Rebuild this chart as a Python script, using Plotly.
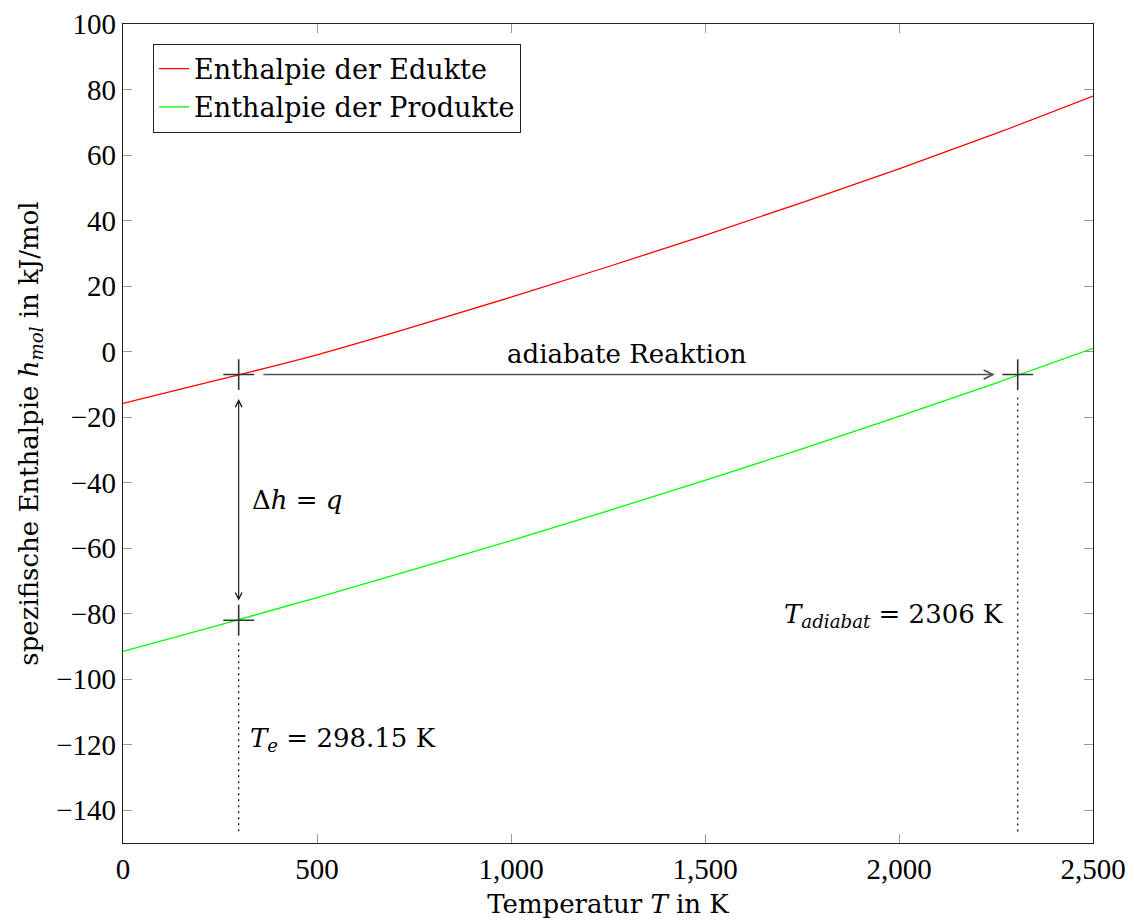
import plotly.graph_objects as go

# ---- data ----
temperature = [0, 250, 500, 750, 1000, 1250, 1500, 1750, 2000, 2250, 2500]
h_edukte = [-15.8, -8.5, -1.0, 7.6, 16.6, 25.9, 35.5, 45.5, 55.8, 66.6, 78.0]
h_produkte = [-91.5, -83.4, -75.1, -66.5, -57.7, -48.6, -39.3, -29.7, -19.8, -9.6, 1.0]

T_e = 298.15
T_ad = 2306
h_e_edukte = -7.0
h_e_produkte = -82.0

x_ticks = [0, 500, 1000, 1500, 2000, 2500]
y_ticks = [-140, -120, -100, -80, -60, -40, -20, 0, 20, 40, 60, 80, 100]

TEXT_FONT = "DejaVu Serif"
TICK_FONT = "Liberation Serif"
FS = 26
TFS = 29

fig = go.Figure()
fig.add_trace(go.Scatter(x=temperature, y=h_edukte, mode="lines",
                         line=dict(color="#ff0000", width=1.3, shape="spline"),
                         name="Enthalpie der Edukte"))
fig.add_trace(go.Scatter(x=temperature, y=h_produkte, mode="lines",
                         line=dict(color="#00ff00", width=1.3, shape="spline"),
                         name="Enthalpie der Produkte"))
fig.add_trace(go.Scatter(x=[T_e, T_e, T_ad], y=[h_e_edukte, h_e_produkte, h_e_edukte],
                         mode="markers", showlegend=False,
                         marker=dict(symbol="cross-thin", size=22,
                                     line=dict(color="#333333", width=1.6))))

# dotted vertical lines
fig.add_shape(type="line", x0=T_e, x1=T_e, y0=-89, y1=-147,
              line=dict(color="#000000", width=1.2, dash="2px,4px"))
fig.add_shape(type="line", x0=T_ad, x1=T_ad, y0=-14, y1=-147,
              line=dict(color="#000000", width=1.2, dash="2px,4px"))

# horizontal arrow (adiabatic reaction)
fig.add_annotation(x=2247, y=h_e_edukte, ax=358, ay=h_e_edukte,
                   xref="x", yref="y", axref="x", ayref="y",
                   text="", showarrow=True, arrowhead=5, arrowsize=1.2,
                   arrowwidth=1.5, arrowcolor="#555555", standoff=0)
# vertical double arrow (Delta h)
fig.add_annotation(x=T_e, y=-76, ax=T_e, ay=-14,
                   xref="x", yref="y", axref="x", ayref="y",
                   text="", showarrow=True, arrowhead=5, startarrowhead=5,
                   arrowside="end+start", arrowsize=1.2, startarrowsize=1.2,
                   arrowwidth=1.1, arrowcolor="#111111", standoff=0, startstandoff=0)

fig.add_annotation(x=1300, y=-0.8, text="adiabate Reaktion", showarrow=False,
                   font=dict(family=TEXT_FONT, size=FS, color="black"))
fig.add_annotation(x=328, y=-45.3, text="Δ<i>h</i> = <i>q</i>", showarrow=False,
                   xanchor="left", font=dict(family=TEXT_FONT, size=FS, color="black"))
fig.add_annotation(x=322, y=-118.5, text="<i>T</i><sub><i>e</i></sub> = 298.15 K",
                   showarrow=False, xanchor="left",
                   font=dict(family=TEXT_FONT, size=FS, color="black"))
fig.add_annotation(x=2273, y=-80.5, text="<i>T</i><sub><i>adiabat</i></sub> = 2306 K",
                   showarrow=False, xanchor="right",
                   font=dict(family=TEXT_FONT, size=FS, color="black"))

axis_common = dict(showline=True, linecolor="#222222", linewidth=1.2, mirror="ticks",
                   ticks="inside", ticklen=9, tickcolor="#999999", tickwidth=1,
                   showgrid=False, zeroline=False, automargin=False,
                   tickfont=dict(family=TICK_FONT, size=TFS, color="black"))

fig.update_xaxes(range=[0, 2500], tickvals=x_ticks, tickformat=",d",
                 title=dict(text="Temperatur <i>T</i> in K", standoff=10,
                            font=dict(family=TEXT_FONT, size=FS, color="black")),
                 **axis_common)
fig.update_yaxes(range=[-150, 100], tickvals=y_ticks,
                 title=dict(text="spezifische Enthalpie <i>h</i><sub><i>mol</i></sub> in kJ/mol",
                            standoff=10, font=dict(family=TEXT_FONT, size=FS, color="black")),
                 **axis_common)

fig.update_layout(
    width=1134, height=922,
    margin=dict(l=123, r=41, t=24, b=79, autoexpand=False),
    plot_bgcolor="white", paper_bgcolor="white",
    font=dict(family=TEXT_FONT, size=FS, color="black"),
    legend=dict(x=0.031, y=0.976, xanchor="left", yanchor="top",
                bgcolor="white", bordercolor="#222222", borderwidth=1,
                font=dict(family=TEXT_FONT, size=27, color="black"),
                tracegroupgap=0, itemwidth=30),
)

fig.write_html("out.html")
